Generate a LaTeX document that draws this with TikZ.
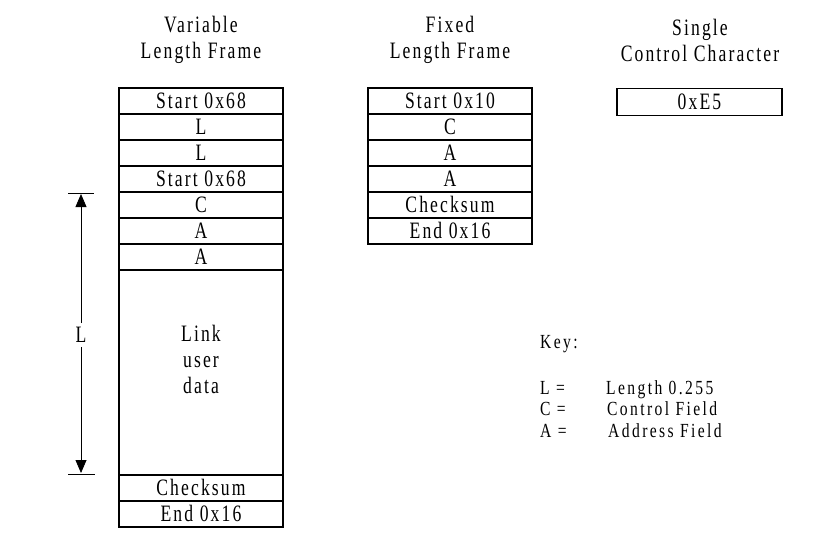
\documentclass[tikz,border=0pt]{standalone}
\usepackage{fontspec}
\setmainfont{Liberation Serif}[FakeStretch=0.75,LetterSpace=9]
\newfontfamily\keyfont{Liberation Serif}[FakeStretch=0.78,LetterSpace=12]
\usetikzlibrary{positioning, arrows.meta}

\begin{document}
\begin{tikzpicture}[x=1pt,y=1pt,node distance=0pt,
        field/.style={draw,line width=1.3pt,minimum width=164pt,minimum height=26pt,
          inner sep=0pt,outer sep=0pt,text height=15.5pt,text depth=0pt,
          font=\fontsize{23.5}{26}\selectfont},
        head/.style={align=center,inner sep=0pt,font=\fontsize{23.5}{26}\selectfont},
        keytxt/.style={anchor=base west,inner sep=0pt,font=\keyfont\fontsize{20}{22}\selectfont}]
        \useasboundingbox (0,0) rectangle (827,-538);
        % headings
        \node[head] (h_var) at (201,-40) {Variable\\Length Frame};
        \node[head] (h_fix) at (450,-40) {Fixed\\Length Frame};
        \node[head] (h_one) at (700,-40) {Single\\Control Character};
        % variable length frame
        \node[field] (v_1) at (201,-101) {Start 0x68};
        \node[field] (v_2) [below=of v_1] {L};
        \node[field] (v_3) [below=of v_2] {L};
        \node[field] (v_4) [below=of v_3] {Start 0x68};
        \node[field] (v_5) [below=of v_4] {C};
        \node[field] (v_6) [below=of v_5] {A};
        \node[field] (v_7) [below=of v_6] {A};
        \node[field,minimum height=205pt] (v_8) [below=of v_7] {};
        \node[head] (v_data) at ([yshift=13.5pt]v_8.center) {Link\\user\\data};
        \node[field] (v_9) [below=of v_8] {Checksum};
        \node[field] (v_10) [below=of v_9] {End 0x16};
        % fixed length frame
        \node[field] (f_1) at (450,-101) {Start 0x10};
        \node[field] (f_2) [below=of f_1] {C};
        \node[field] (f_3) [below=of f_2] {A};
        \node[field] (f_4) [below=of f_3] {A};
        \node[field] (f_5) [below=of f_4] {Checksum};
        \node[field] (f_6) [below=of f_5] {End 0x16};
        % single control character
        \node[field,minimum width=165pt,minimum height=27pt] (s_1) at (699.5,-102) {0xE5};
        % length L
        \coordinate (l_t1) at (68,-193);
        \coordinate (l_t2) at (94,-193);
        \coordinate (l_b1) at (68,-474);
        \coordinate (l_b2) at (95,-474);
        \coordinate (l_top) at (81,-194);
        \coordinate (l_bot) at (81,-473);
        \draw[line width=0.8pt] (l_t1) -- (l_t2);
        \draw[line width=0.8pt] (l_b1) -- (l_b2);
        \node[head,inner sep=4pt] (l_len) at (81,-335) {L};
        \draw[line width=0.8pt,-{Triangle[width=11pt,length=13pt]}] (l_len) -- (l_top);
        \draw[line width=0.8pt,-{Triangle[width=11pt,length=13pt]}] (l_len) -- (l_bot);
        % key
        \node[keytxt] (k_0) at (540,-348) {Key:};
        \node[keytxt] (k_1) at (540,-394) {L =};
        \node[keytxt] (k_2) at (540,-415) {C =};
        \node[keytxt] (k_3) at (540,-437) {A =};
        \node[keytxt] (k_1t) at (606,-394) {Length 0.255};
        \node[keytxt] (k_2t) at (607,-415) {Control Field};
        \node[keytxt] (k_3t) at (608,-437) {Address Field};
\end{tikzpicture}
\end{document}
